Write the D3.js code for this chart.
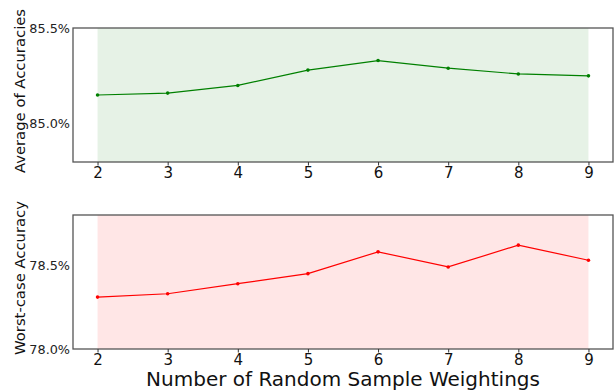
<!DOCTYPE html>
<html><head><meta charset="utf-8">
<script src="https://cdn.jsdelivr.net/npm/d3@7"></script>
<style>body{margin:0;background:#fff}svg{display:block;font-family:"DejaVu Sans",sans-serif}</style>
</head><body>
<script>
const weightings = [2, 3, 4, 5, 6, 7, 8, 9];
const avgAccuracy = [85.15, 85.16, 85.20, 85.28, 85.33, 85.29, 85.26, 85.25];
const worstAccuracy = [78.31, 78.33, 78.39, 78.45, 78.58, 78.49, 78.62, 78.53];
const avgTicks = [85.0, 85.5];
const worstTicks = [78.0, 78.5];
const xTicks = [2, 3, 4, 5, 6, 7, 8, 9];

const W = 616, H = 390;
const svg = d3.select("body").append("svg").attr("width", W).attr("height", H);
const left = 73, right = 613;
const x = d3.scaleLinear().domain([1.65, 9.35]).range([left, right]);

const panels = [
  {top: 28, bottom: 162, domain: [84.8, 85.5], ticks: avgTicks, data: avgAccuracy,
   color: "#008000", fill: "#e6f2e6", label: "Average of Accuracies"},
  {top: 215, bottom: 349, domain: [78.0, 78.8], ticks: worstTicks, data: worstAccuracy,
   color: "#ff0000", fill: "#ffe6e6", label: "Worst-case Accuracy"}
];

panels.forEach(p => {
  const y = d3.scaleLinear().domain(p.domain).range([p.bottom, p.top]);
  const g = svg.append("g");
  g.append("rect").attr("x", x(d3.min(weightings))).attr("y", p.top)
    .attr("width", x(d3.max(weightings)) - x(d3.min(weightings)))
    .attr("height", p.bottom - p.top).attr("fill", p.fill);
  const line = d3.line().x((d, i) => x(weightings[i])).y(d => y(d));
  g.append("path").datum(p.data).attr("d", line).attr("fill", "none")
    .attr("stroke", p.color).attr("stroke-width", 1.2);
  g.selectAll("circle").data(p.data).join("circle")
    .attr("cx", (d, i) => x(weightings[i])).attr("cy", d => y(d))
    .attr("r", 1.8).attr("fill", p.color);
  g.append("rect").attr("x", left).attr("y", p.top).attr("width", right - left)
    .attr("height", p.bottom - p.top).attr("fill", "none")
    .attr("stroke", "#555").attr("stroke-width", 1.3);
  const yAxis = g.append("g").attr("transform", `translate(${left},0)`)
    .call(d3.axisLeft(y).tickValues(p.ticks).tickSize(0).tickPadding(3)
      .tickFormat(d => d.toFixed(1) + "%"));
  yAxis.attr("font-size", null).attr("font-family", null);
  yAxis.select(".domain").remove();
  yAxis.selectAll("text").style("font-size", "12.8px").attr("fill", "#222")
    .style("font-family", "DejaVu Sans");
  const xAxis = g.append("g").attr("transform", `translate(0,${p.bottom})`)
    .call(d3.axisBottom(x).tickValues(xTicks).tickSize(3.5).tickPadding(1.5)
      .tickFormat(d3.format("d")));
  xAxis.attr("font-size", null).attr("font-family", null);
  xAxis.select(".domain").remove();
  xAxis.selectAll("line").attr("stroke", "#333").attr("stroke-width", 1);
  xAxis.selectAll("text").style("font-size", "15px").attr("fill", "#111")
    .style("font-family", "DejaVu Sans");
  g.append("text").attr("transform", `translate(25,${(p.top + p.bottom) / 2 - 4}) rotate(-90)`)
    .attr("text-anchor", "middle").style("font-size", "14.8px").attr("fill", "#111")
    .text(p.label);
});

svg.append("text").attr("x", 343).attr("y", 386)
  .attr("text-anchor", "middle").style("font-size", "20px").attr("fill", "#111")
  .text("Number of Random Sample Weightings");
</script>
</body></html>
